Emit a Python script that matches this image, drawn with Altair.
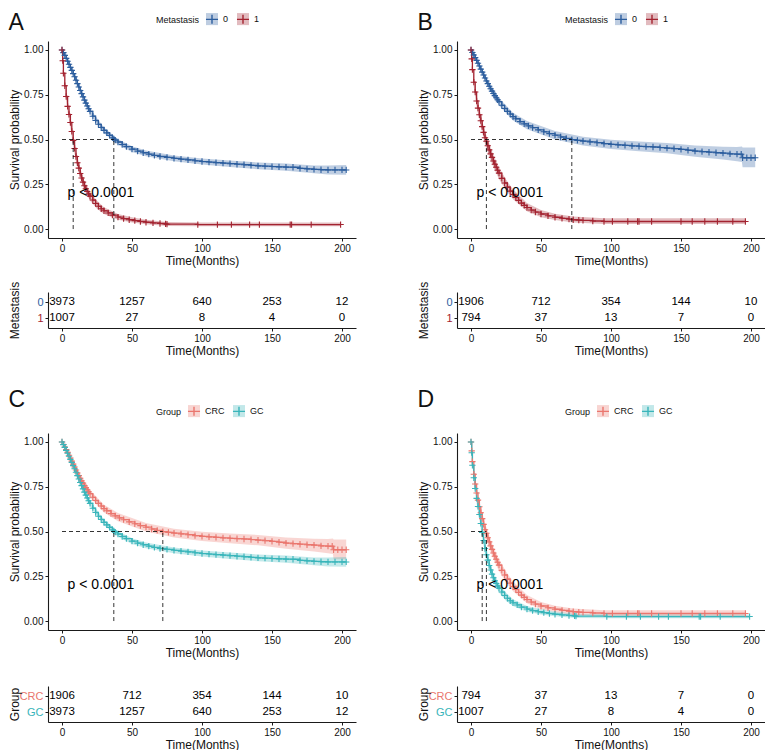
import altair as alt
import pandas as pd

FONT = "Liberation Sans"
W, H_KM, H_TAB = 308, 197, 36

X_TICKS = [0, 50, 100, 150, 200]
Y_TICKS = [0, 0.25, 0.5, 0.75, 1.0]
RISK_TIMES = [0, 50, 100, 150, 200]

# ---- Kaplan-Meier estimates (months, survival probability) ----
# GC, no metastasis (n = 3973)
GC_M0_T = [0, 1, 2, 3, 4, 5, 6, 7, 8, 9, 10, 11, 12, 13, 14, 15, 16, 17, 18, 19, 20,
           22, 24, 26, 28, 30, 32, 34, 36, 37, 38, 40, 43, 46, 50, 54, 58, 62, 66, 70,
           75, 80, 85, 90, 95, 100, 105, 110, 115, 120, 125, 130, 135, 140, 145, 150,
           155, 160, 165, 170, 175, 180, 185, 190, 195, 200, 203]
GC_M0_S = [1.0, 0.985, 0.97, 0.953, 0.937, 0.92, 0.903, 0.886, 0.868, 0.85, 0.831, 0.812,
           0.793, 0.774, 0.756, 0.738, 0.72, 0.703, 0.687, 0.672, 0.657,
           0.63, 0.606, 0.585, 0.567, 0.551, 0.537, 0.523, 0.51, 0.503, 0.497, 0.486,
           0.472, 0.46, 0.446, 0.435, 0.426, 0.418, 0.411, 0.405,
           0.40, 0.395, 0.39, 0.386, 0.381, 0.377, 0.374, 0.371, 0.368, 0.365, 0.362,
           0.359, 0.356, 0.353, 0.351, 0.349, 0.347, 0.346, 0.345, 0.339, 0.336, 0.333,
           0.331, 0.33, 0.33, 0.33, 0.33]
GC_M0_CI_T = [0, 10, 20, 30, 40, 50, 60, 80, 100, 120, 140, 160, 180, 190, 203]
GC_M0_LO = [1.0, 0.819, 0.642, 0.535, 0.470, 0.430, 0.406, 0.379, 0.360, 0.347, 0.334,
            0.326, 0.311, 0.305, 0.303]
GC_M0_HI = [1.0, 0.843, 0.672, 0.567, 0.502, 0.462, 0.438, 0.411, 0.394, 0.383, 0.372,
            0.366, 0.355, 0.355, 0.358]

# GC, metastasis (n = 1007)
GC_M1_T = [0, 0.5, 1, 2, 3, 4, 5, 6, 7, 8, 9, 10, 11, 12, 13, 14, 15, 16, 17, 18, 19, 20,
           22, 24, 26, 28, 30, 33, 36, 40, 44, 48, 52, 56, 60, 65, 70, 74, 75,
           97, 111, 121, 134, 141, 163, 164, 178, 199]
GC_M1_S = [1.0, 0.94, 0.87, 0.80, 0.74, 0.685, 0.64, 0.595, 0.545, 0.495, 0.45, 0.405,
           0.37, 0.34, 0.31, 0.285, 0.262, 0.242, 0.225, 0.21, 0.196, 0.184,
           0.162, 0.143, 0.127, 0.113, 0.102, 0.09, 0.078, 0.067, 0.058, 0.052, 0.047,
           0.042, 0.038, 0.034, 0.031, 0.029, 0.027,
           0.025, 0.025, 0.025, 0.025, 0.025, 0.025, 0.025, 0.025, 0.025]
GC_M1_CI_T = [0, 2, 4, 6, 8, 10, 13, 16, 20, 25, 30, 40, 50, 60, 75, 100, 150, 199]
GC_M1_LO = [1.0, 0.775, 0.657, 0.565, 0.465, 0.375, 0.282, 0.216, 0.160, 0.114, 0.084,
            0.052, 0.037, 0.027, 0.017, 0.015, 0.015, 0.015]
GC_M1_HI = [1.0, 0.825, 0.714, 0.626, 0.526, 0.436, 0.340, 0.270, 0.210, 0.158, 0.122,
            0.084, 0.066, 0.052, 0.040, 0.037, 0.037, 0.037]

# CRC, no metastasis (n = 1906)
CRC_M0_T = [0, 1, 2, 3, 4, 5, 6, 7, 8, 9, 10, 11, 12, 13, 14, 15, 16, 17, 18, 19, 20,
            22, 24, 26, 28, 30, 32, 35, 38, 41, 44, 48, 52, 56, 60, 64, 68, 72, 76, 80,
            85, 90, 95, 100, 105, 110, 115, 120, 125, 130, 135, 140, 145, 150, 155, 160,
            165, 170, 175, 180, 185, 190, 193, 194, 197, 200, 203]
CRC_M0_S = [1.0, 0.986, 0.972, 0.957, 0.942, 0.926, 0.91, 0.893, 0.876, 0.86, 0.843,
            0.827, 0.812, 0.797, 0.783, 0.77, 0.757, 0.745, 0.733, 0.722, 0.711,
            0.691, 0.673, 0.657, 0.642, 0.628, 0.616, 0.60, 0.587, 0.576, 0.566, 0.554,
            0.543, 0.533, 0.524, 0.514, 0.506, 0.499, 0.495, 0.491,
            0.487, 0.482, 0.477, 0.473, 0.47, 0.467, 0.464, 0.462, 0.46, 0.458, 0.455,
            0.452, 0.449, 0.445, 0.44, 0.435, 0.432, 0.429, 0.426, 0.424, 0.42, 0.418,
            0.418, 0.398, 0.398, 0.398, 0.398]
CRC_M0_CI_T = [0, 10, 20, 30, 40, 60, 80, 100, 120, 140, 160, 180, 190, 193.5, 194, 203]
CRC_M0_LO = [1.0, 0.826, 0.690, 0.606, 0.557, 0.500, 0.466, 0.447, 0.435, 0.423, 0.403,
             0.389, 0.378, 0.375, 0.345, 0.345]
CRC_M0_HI = [1.0, 0.860, 0.732, 0.650, 0.603, 0.548, 0.516, 0.499, 0.489, 0.481, 0.467,
             0.459, 0.458, 0.461, 0.455, 0.455]

# CRC, metastasis (n = 794)
CRC_M1_T = [0, 0.5, 1, 2, 3, 4, 5, 6, 7, 8, 9, 10, 11, 12, 13, 14, 15, 16, 17, 18, 19, 20,
            22, 24, 26, 28, 30, 32, 34, 36, 38, 40, 43, 46, 50, 55, 60, 65, 70, 73, 77,
            80, 87, 95, 101, 112, 119, 120, 129, 150, 158, 167, 176, 187, 196]
CRC_M1_S = [1.0, 0.95, 0.89, 0.82, 0.765, 0.715, 0.675, 0.638, 0.605, 0.572, 0.54, 0.51,
            0.49, 0.465, 0.442, 0.42, 0.40, 0.38, 0.362, 0.345, 0.328, 0.312,
            0.283, 0.257, 0.234, 0.212, 0.193, 0.176, 0.16, 0.145, 0.132, 0.12, 0.106,
            0.095, 0.084, 0.074, 0.066, 0.06, 0.055, 0.052, 0.05,
            0.048, 0.045, 0.042, 0.042, 0.042, 0.042, 0.042, 0.042, 0.042, 0.042, 0.042,
            0.042, 0.042, 0.042]
CRC_M1_CI_T = [0, 2, 4, 6, 8, 10, 13, 16, 20, 25, 30, 40, 50, 60, 73, 95, 150, 196]
CRC_M1_LO = [1.0, 0.793, 0.684, 0.605, 0.538, 0.475, 0.407, 0.346, 0.280, 0.216, 0.167,
             0.099, 0.066, 0.050, 0.037, 0.028, 0.028, 0.028]
CRC_M1_HI = [1.0, 0.847, 0.746, 0.671, 0.606, 0.545, 0.477, 0.414, 0.345, 0.276, 0.222,
             0.145, 0.106, 0.086, 0.070, 0.060, 0.060, 0.060]

MEDIANS = {"gc_m0": 37, "gc_m1": 8, "crc_m0": 72, "crc_m1": 11}

# numbers at risk at 0, 50, 100, 150, 200 months
RISK_GC_M0 = [3973, 1257, 640, 253, 12]
RISK_GC_M1 = [1007, 27, 8, 4, 0]
RISK_CRC_M0 = [1906, 712, 354, 144, 10]
RISK_CRC_M1 = [794, 37, 13, 7, 0]

P_LABEL = "p < 0.0001"
P_X, P_Y = 4, 0.2

BLUE, RED = "#2C5E9E", "#A32330"
SALMON, TEAL = "#EA766E", "#39B5BA"

CURVES = {
    "gc_m0": (GC_M0_T, GC_M0_S, GC_M0_CI_T, GC_M0_LO, GC_M0_HI),
    "gc_m1": (GC_M1_T, GC_M1_S, GC_M1_CI_T, GC_M1_LO, GC_M1_HI),
    "crc_m0": (CRC_M0_T, CRC_M0_S, CRC_M0_CI_T, CRC_M0_LO, CRC_M0_HI),
    "crc_m1": (CRC_M1_T, CRC_M1_S, CRC_M1_CI_T, CRC_M1_LO, CRC_M1_HI),
}
for k, (t, s, ct, lo, hi) in CURVES.items():
    assert len(t) == len(s), k
    assert len(ct) == len(lo) == len(hi), k

PANELS = [
    dict(letter="A", legend="Metastasis", groups=["0", "1"], curves=["gc_m0", "gc_m1"],
         colors=[BLUE, RED], risk=[RISK_GC_M0, RISK_GC_M1], toff=-23, lx=108, sp=15),
    dict(letter="B", legend="Metastasis", groups=["0", "1"], curves=["crc_m0", "crc_m1"],
         colors=[BLUE, RED], risk=[RISK_CRC_M0, RISK_CRC_M1], toff=-23, lx=108, sp=15),
    dict(letter="C", legend="Group", groups=["CRC", "GC"], curves=["crc_m0", "gc_m0"],
         colors=[SALMON, TEAL], risk=[RISK_CRC_M0, RISK_GC_M0], toff=-8, lx=108, sp=28),
    dict(letter="D", legend="Group", groups=["CRC", "GC"], curves=["crc_m1", "gc_m1"],
         colors=[SALMON, TEAL], risk=[RISK_CRC_M1, RISK_GC_M1], toff=-8, lx=108, sp=28),
]

PLUS = "M-1,0H1M0,-1V1"
LEG_PLUS = "M-1,0H1M0,-0.75V0.75"

IND = dict(fill="independent", stroke="independent")


def build(p):
    groups, colors = p["groups"], p["colors"]
    rows, brows = [], []
    for g, key in zip(groups, p["curves"]):
        t, s, ct, lo, hi = CURVES[key]
        rows += [{"t": a, "s": b, "g": g, "g2": g} for a, b in zip(t, s)]
        brows += [{"t": a, "lo": b, "hi": c, "g": g} for a, b, c in zip(ct, lo, hi)]
    cdf, bdf = pd.DataFrame(rows), pd.DataFrame(brows)
    meds = [MEDIANS[k] for k in p["curves"]]
    hdf = pd.DataFrame({"x": [0], "x2": [max(meds)], "y": [0.5]})
    vdf = pd.DataFrame({"x": meds, "y": [0] * len(meds), "y2": [0.5] * len(meds)})
    pdf = pd.DataFrame({"x": [P_X], "y": [P_Y], "label": [P_LABEL]})

    xs = alt.Scale(domain=[-10, 210], nice=False, zero=False)
    ys = alt.Scale(domain=[-0.05, 1.05], nice=False, zero=False)
    xa = alt.Axis(values=X_TICKS, title="Time(Months)")
    ya = alt.Axis(values=Y_TICKS, format=".2f", title="Survival probability")

    leg = dict(orient="none", legendX=p["lx"], legendY=-29, direction="horizontal",
               titleOrient="left", titleAnchor="middle", titleBaseline="middle",
               symbolSize=145, symbolStrokeWidth=1.4, labelFontSize=9,
               titleFontSize=9, titleFontWeight="normal", titlePadding=5,
               columnPadding=5, labelOffset=4, labelColor="#111", titleColor="#111")
    fill_leg = alt.Legend(title=p["legend"], symbolType="square", symbolOpacity=0.3,
                          symbolStrokeColor="transparent", **leg)
    stroke_leg = alt.Legend(title=p["legend"], symbolType=LEG_PLUS,
                            symbolFillColor="transparent", labelOpacity=0,
                            titleOpacity=0, **leg)
    X = lambda f: alt.X(f, scale=xs, axis=xa)
    Y = lambda f: alt.Y(f, scale=ys, axis=ya)

    # fill scale takes its domain from the data (same order), so that the two
    # legends (shaded box and line+cross) stay separate and can be overlaid
    band = alt.Chart(bdf).mark_area(opacity=0.3).encode(
        x=X("t:Q"), y=Y("lo:Q"), y2="hi:Q",
        fill=alt.Fill("g:N", scale=alt.Scale(range=colors), legend=fill_leg))
    stroke = alt.Stroke("g2:N", scale=alt.Scale(domain=groups, range=colors), legend=stroke_leg)
    line = alt.Chart(cdf).mark_line(interpolate="step-after", strokeWidth=1.3).encode(
        x=X("t:Q"), y=Y("s:Q"), stroke=stroke)
    pts = alt.Chart(cdf).mark_point(shape=PLUS, size=40, strokeWidth=1.1, opacity=1).encode(
        x=X("t:Q"), y=Y("s:Q"), stroke=stroke)
    dash = dict(strokeDash=[4, 3], color="black", strokeWidth=0.8)
    hr = alt.Chart(hdf).mark_rule(**dash).encode(x=X("x:Q"), x2="x2:Q", y=Y("y:Q"))
    vr = alt.Chart(vdf).mark_rule(**dash).encode(x=X("x:Q"), y=Y("y:Q"), y2="y2:Q")
    txt = alt.Chart(pdf).mark_text(align="left", baseline="middle", fontSize=14,
                                   color="black").encode(x=X("x:Q"), y=Y("y:Q"), text="label:N")
    km = alt.layer(band, line, pts, hr, vr, txt).properties(
        width=W, height=H_KM,
        title=alt.TitleParams(text=p["letter"], anchor="start", frame="bounds", fontSize=23,
                              fontWeight="normal", offset=p["toff"], color="#111"))

    trows = []
    for g, counts in zip(groups, p["risk"]):
        trows += [{"t": a, "g": g, "n": n} for a, n in zip(RISK_TIMES, counts)]
    tdf = pd.DataFrame(trows)
    lab_color = {"condition": {"test": f"datum.value == '{groups[0]}'", "value": colors[0]},
                 "value": colors[1]}
    tab = alt.Chart(tdf).mark_text(fontSize=11.5, color="black", baseline="middle").encode(
        x=alt.X("t:Q", scale=xs, axis=xa),
        y=alt.Y("g:N", scale=alt.Scale(type="point", domain=groups, padding=0.625),
                axis=alt.Axis(title=p["legend"], labelColor=lab_color, labelFontSize=11,
                              titleX=-27, titleFontSize=12)),
        text="n:Q").properties(width=W, height=H_TAB)
    return alt.vconcat(km, tab, spacing=p["sp"]).resolve_scale(**IND).resolve_legend(**IND)


panels = [build(p) for p in PANELS]
row1 = alt.hconcat(panels[0], panels[1], spacing=61).resolve_scale(**IND).resolve_legend(**IND)
row2 = alt.hconcat(panels[2], panels[3], spacing=61).resolve_scale(**IND).resolve_legend(**IND)

chart = alt.vconcat(row1, row2, spacing=33).resolve_scale(**IND).resolve_legend(**IND).properties(
    padding={"top": 4, "left": 0, "right": 0, "bottom": 0}).configure(
    font=FONT
).configure_view(stroke=None).configure_axis(
    grid=False, domainColor="#1a1a1a", domainWidth=1.1, tickColor="#1a1a1a", tickSize=3,
    labelColor="#111", titleColor="#111", labelFontSize=10, titleFontSize=12,
    titleFontWeight="normal", labelPadding=2, titlePadding=2
).configure_title(font=FONT)

chart.save("out.html", embed_options={"renderer": "svg", "actions": False})
